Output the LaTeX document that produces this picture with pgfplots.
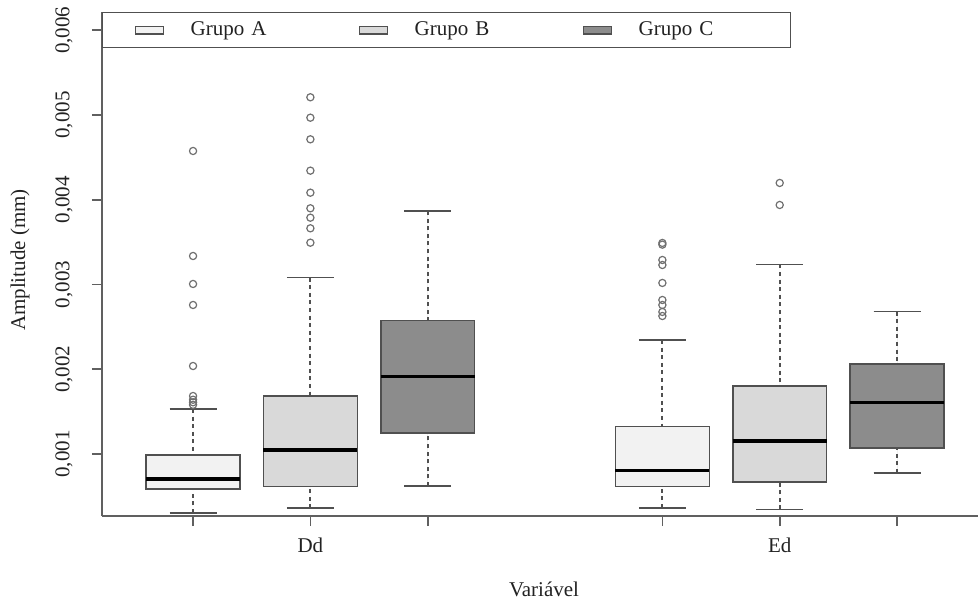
\documentclass[border=0pt]{standalone}
\usepackage{fontspec}
\setmainfont{Liberation Serif}
\usepackage{pgfplots}
\pgfplotsset{compat=1.18}
\usepgfplotslibrary{statistics}
\definecolor{cA}{HTML}{F2F2F2}
\definecolor{cB}{HTML}{D9D9D9}
\definecolor{cC}{HTML}{8C8C8C}
\definecolor{lineg}{HTML}{505050}
\definecolor{axcol}{HTML}{606060}
\definecolor{outl}{HTML}{707070}
\definecolor{txt}{HTML}{222222}
\pgfplotsset{
  legbox/.style={legend image code/.code={%
    \path[draw=none, fill=none] (-12.5pt,0) -- (27.5pt,0);
    \draw[##1] (0pt,-1.8pt) rectangle (14pt,1.8pt);}},
}
\begin{document}
\fontsize{10.5}{12.6}\selectfont
\begin{tikzpicture}
\useasboundingbox (-51pt,-42.5pt) rectangle (438pt,258pt);
% values in units of 0.001 mm
\begin{axis}[
  at={(0,0)}, anchor=south west,
  scale only axis, width=438pt, height=252pt,
  xmin=0.224, xmax=7.69, ymin=0.268, ymax=6.215,
  axis x line*=bottom, axis y line*=left,
  axis line style={draw=axcol, line width=0.8pt},
  tick align=outside, major tick length=5pt,
  tick style={draw=axcol, line width=0.8pt},
  xtick={1,2,3,5,6,7}, xticklabels={,Dd,,,Ed,},
  ytick={1,2,3,4,5,6},
  yticklabels={{0,001},{0,002},{0,003},{0,004},{0,005},{0,006}},
  yticklabel style={rotate=90, anchor=south, text=txt, yshift=6pt},
  xticklabel style={text=txt, yshift=-2.5pt},
  xlabel={Variável}, ylabel={Amplitude (mm)},
  xlabel style={at={(axis description cs:0.5,-0.1448)}, anchor=center, xshift=2pt, text=txt},
  ylabel style={at={(axis description cs:-0.0936,0.508)}, anchor=center, rotate=0, text=txt},
  legend columns=3,
  legend style={at={(0,1)}, anchor=north west, draw=lineg, line width=0.7pt,
    inner xsep=4pt, inner ysep=2.5pt, text=txt,
    /tikz/every even column/.append style={text width=72pt},
    nodes={inner xsep=0pt, align=left}},
  boxplot/draw direction=y,
  boxplot/box extend=0.8,
  boxplot/whisker extend=0.4,
  boxplot/every median/.style={draw=black, line width=1.8pt},
  boxplot/draw/lower whisker/.code={
    \draw[dash pattern=on 2pt off 1.8pt, line width=0.9pt] (boxplot box cs:\pgfplotsboxplotvalue{lower whisker},0.5) -- (boxplot box cs:\pgfplotsboxplotvalue{lower quartile},0.5);
    \draw[solid] (boxplot whisker cs:\pgfplotsboxplotvalue{lower whisker},0) -- (boxplot whisker cs:\pgfplotsboxplotvalue{lower whisker},1);
  },
  boxplot/draw/upper whisker/.code={
    \draw[dash pattern=on 2pt off 1.8pt, line width=0.9pt] (boxplot box cs:\pgfplotsboxplotvalue{upper whisker},0.5) -- (boxplot box cs:\pgfplotsboxplotvalue{upper quartile},0.5);
    \draw[solid] (boxplot whisker cs:\pgfplotsboxplotvalue{upper whisker},0) -- (boxplot whisker cs:\pgfplotsboxplotvalue{upper whisker},1);
  },
  mybox/.style={draw=lineg, line width=0.8pt, solid, mark=o, mark size=1.8pt,
    mark options={solid, draw=outl, line width=0.6pt, fill=none}},
]
\addlegendimage{legbox, draw=lineg, fill=cA, line width=0.7pt}
\addlegendentry{Grupo A}
\addlegendimage{legbox, draw=lineg, fill=cB, line width=0.7pt}
\addlegendentry{Grupo B}
\addlegendimage{legbox, draw=lineg, fill=cC, line width=0.7pt}
\addlegendentry{Grupo C}

% Dd - Grupo A
\addplot[mybox, fill=cA, boxplot prepared={draw position=1,
  lower whisker=0.304, lower quartile=0.587, median=0.705,
  upper quartile=0.988, upper whisker=1.531}]
  table[row sep=\\, y index=0] {data\\ 4.575\\ 3.336\\ 3.006\\ 2.758\\ 2.038\\ 1.684\\ 1.640\\ 1.610\\ 1.580\\};
% Dd - Grupo B
\addplot[mybox, fill=cB, boxplot prepared={draw position=2,
  lower whisker=0.359, lower quartile=0.614, median=1.047,
  upper quartile=1.684, upper whisker=3.080}]
  table[row sep=\\, y index=0] {data\\ 5.209\\ 4.968\\ 4.713\\ 4.343\\ 4.083\\ 3.899\\ 3.788\\ 3.663\\ 3.493\\};
% Dd - Grupo C
\addplot[mybox, fill=cC, boxplot prepared={draw position=3,
  lower whisker=0.622, lower quartile=1.244, median=1.912,
  upper quartile=2.573, upper whisker=3.867}]
  coordinates {};
% Ed - Grupo A
\addplot[mybox, fill=cA, boxplot prepared={draw position=5,
  lower whisker=0.366, lower quartile=0.614, median=0.803,
  upper quartile=1.322, upper whisker=2.345}]
  table[row sep=\\, y index=0] {data\\ 3.490\\ 3.470\\ 3.289\\ 3.230\\ 3.018\\ 2.817\\ 2.758\\ 2.676\\ 2.628\\};
% Ed - Grupo B
\addplot[mybox, fill=cB, boxplot prepared={draw position=6,
  lower whisker=0.347, lower quartile=0.666, median=1.153,
  upper quartile=1.802, upper whisker=3.238}]
  table[row sep=\\, y index=0] {data\\ 4.198\\ 3.938\\};
% Ed - Grupo C
\addplot[mybox, fill=cC, boxplot prepared={draw position=7,
  lower whisker=0.779, lower quartile=1.067, median=1.605,
  upper quartile=2.062, upper whisker=2.679}]
  coordinates {};
\end{axis}
\end{tikzpicture}
\end{document}
